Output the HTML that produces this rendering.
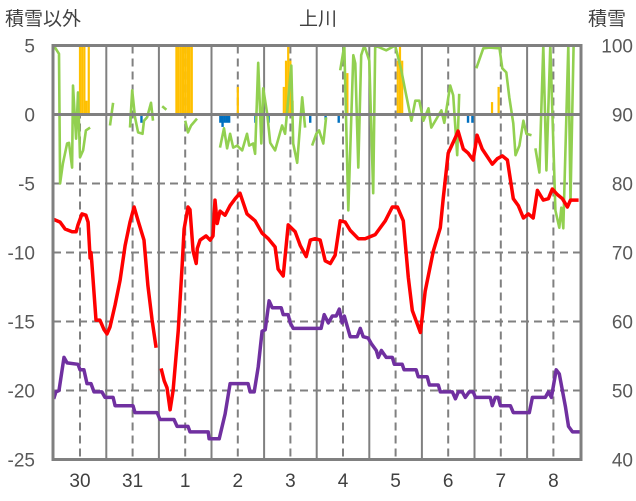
<!DOCTYPE html>
<html><head><meta charset="utf-8">
<style>
html,body{margin:0;padding:0;background:#fff;}
svg{display:block;font-family:"Liberation Sans","Noto Sans CJK JP",sans-serif;}
</style></head>
<body>
<svg id="chart" width="636" height="501" viewBox="0 0 636 501" xmlns="http://www.w3.org/2000/svg">
<text x="5" y="25" font-size="19" fill="#404040">積雪以外</text>
<text x="318" y="25" font-size="19" fill="#404040" text-anchor="middle">上川</text>
<text x="588" y="25" font-size="19" fill="#404040">積雪</text>
<g id="grid"></g>
<g id="bars"></g>
<g id="lines"></g>
<g id="frame"></g>
<g id="labels"></g>
</svg>
<script>
// ---- data ----
const dayLabels = ["30","31","1","2","3","4","5","6","7","8"];
const leftTicks = [5,0,-5,-10,-15,-20,-25];
const rightTicks = [100,90,80,70,60,50,40];

const redHours = [0,2.9,5.2,8.4,10.2,11.1,12.9,14.7,15.7,16.6,17,17.4,19.3,21.1,23,24.3,25.7,28,30.3,32.6,34.8,36.7,38.5,41.2,43,44.9,46.7,null,49,50.4,51.7,53.1,54.5,56.8,58.6,59.5,61.3,62.2,63.6,65,65.5,66.8,69.5,71.4,72.7,73.6,74.6,75.9,78.2,80.5,82.8,85,88.2,91.9,95.1,97.9,101,102.4,104.7,107,110.2,112.5,115.2,117.1,119.3,121.6,123.9,126.2,128.4,130.7,133,135.3,139,142.1,146.7,151.3,154.5,156.8,159.5,161.8,163.6,167.3,169.5,173.2,176.4,177.7,180,183.2,184.5,186.9,189.1,191.4,193.2,195.5,200.1,202.4,204.7,207,209.7,212,214.3,216.6,218.8,220.7,223.4,225.7,227.5,229.8,232.1,234.4,235.8,239.5];
const redValues = [-7.6,-7.8,-8.3,-8.5,-8.5,-8.0,-7.2,-7.3,-7.8,-10.4,-10.0,-10.7,-14.9,-14.9,-15.6,-15.9,-15.4,-13.8,-12,-9.5,-7.8,-6.7,-7.7,-9.1,-12.4,-14.9,-16.9,null,-18.4,-19.3,-19.8,-21.4,-20,-15.7,-11,-8.3,-6.7,-6.9,-9.9,-10.8,-9.7,-9.1,-8.8,-9.1,-8.8,-6.2,-7.9,-7.0,-7.3,-6.6,-6.1,-5.7,-7.2,-7.7,-8.6,-9.0,-9.6,-11.2,-11.7,-8.0,-8.5,-9.5,-10.3,-9.1,-9.0,-9.1,-10.6,-10.8,-10.2,-7.7,-7.8,-8.4,-9.0,-9.0,-8.7,-7.7,-6.7,-6.7,-7.7,-11.8,-14.2,-15.8,-12.8,-9.9,-8.2,-6.1,-2.8,-1.7,-1.2,-2.5,-2.8,-3.3,-1.5,-2.5,-3.6,-3.2,-3.0,-3.3,-6.1,-6.6,-7.5,-7.2,-7.5,-5.5,-6.2,-6.1,-5.4,-5.8,-6.1,-6.7,-6.2,-6.2];

const purpleHours = [0,1,2.4,4.7,6.1,11.1,12,13.8,15.2,17,18.4,22,23.4,27.1,28,36.2,37.1,47.2,48.5,54.9,56.3,61.3,62.2,70.5,70.9,75.5,78.2,80.5,88.7,89.6,91.5,93.3,95.1,96.5,98.3,99.7,103.8,104.7,107,107.9,109.3,122,123.4,125.3,127.1,128.9,130.3,131.6,132.6,135.3,138.5,139.9,141.2,143.5,144.9,147.2,148.1,149.5,151.7,154.5,155.4,159,159.9,165.4,166.3,170.4,171.4,175.5,176.4,181.9,183.3,184.6,186.4,187.8,189.6,191.4,192.4,199.2,200.1,201.5,202.8,203.8,208.4,209.7,217,218.4,224.3,225.7,227.1,229.3,230.7,233.5,234.9,236.7,239.9];
const purpleValues = [-20.6,-20.1,-20.0,-17.6,-18.0,-18.1,-18.5,-18.5,-19.5,-19.5,-20.1,-20.1,-20.5,-20.5,-21.1,-21.1,-21.6,-21.6,-22.1,-22.1,-22.6,-22.6,-23.0,-23.0,-23.5,-23.5,-21.7,-19.5,-19.5,-20.1,-20.1,-18.3,-15.7,-15.6,-13.5,-14.0,-14.0,-14.5,-14.5,-15.1,-15.5,-15.5,-14.5,-15.1,-14.6,-14.6,-14.1,-15.1,-14.6,-16.1,-16.1,-15.5,-16.1,-16.2,-16.6,-17.1,-17.6,-17.1,-17.6,-17.6,-18.1,-18.1,-18.5,-18.5,-19.0,-19.0,-19.6,-19.6,-20.1,-20.1,-20.6,-20.1,-20.1,-20.5,-20.1,-20.1,-20.5,-20.5,-21.1,-20.5,-20.5,-21.1,-21.1,-21.6,-21.6,-20.5,-20.5,-20.1,-20.5,-18.5,-18.8,-21.2,-22.6,-23.0,-23.0];

const greenHours = [0,2.4,2.9,4.2,6.1,7,8.4,8.8,10.2,11.1,12,13.4,14.7,16.6,null,25.7,27.1,null,34.8,35.8,37.1,38.5,40.5,41.2,42.6,44.4,45.3,null,49.5,51.4,null,60,61.3,62.7,65.4,null,75.9,77.7,79.1,80.5,81.9,83.7,86,88.2,89.2,91,91.9,93.3,94.7,95.6,97.4,98.8,101,104.2,105.6,108.4,109.3,111.1,113.4,114.7,null,117.9,119.8,121.1,123,124.3,null,130.7,132.6,134.4,136.7,137.6,139,140.3,141.7,144,145.8,146.7,151.7,155.8,158.6,160.4,163.2,165,166.8,168.7,171,172.3,176.9,178.2,180.9,182.3,184.1,185,null,192.8,196,198.8,203.4,204.7,206.5,207.9,209.7,210.7,212.5,214.3,215.7,218,null,219.8,221.6,223.4,224.8,226.6,228.9,230.7,231.6,232.5,234.8,235.8,237.2];
const greenValues = [100,98.8,80,82.9,85.8,85.9,82.3,94.2,86.5,93.2,83.8,84.8,87.7,88.1,null,88.4,91.7,null,88.1,93.5,89.6,87.4,87.2,89.1,89.6,91.7,89.1,null,91.2,90.7,null,89.1,87.4,88.4,89.4,null,85.2,88,85.1,87.2,85.2,85.5,84.8,87.2,85.5,85.8,84.3,97.5,85.8,93.8,90.1,85.9,84.8,88.4,87.2,97.1,85.8,83,92.5,88.1,null,85.5,87.2,87.7,85.8,89.6,null,96.4,100,76.1,98.6,97.4,82.3,98.6,100,97.8,78.6,100,99.3,100,96.4,93.5,89.1,92,92,89.1,90.9,88.1,90.6,88.8,94.2,92.8,84.1,93,null,96.7,99.6,99.7,99.6,96.7,96.1,92.5,88.7,84.1,85.5,89.1,87.2,87,null,85.1,81.6,100,81.9,100,76.1,73.6,76.5,73.5,100,77.5,100];

const snowHours = [12,13,14,15,16,56,57,58,59,60,61,62,63,84,105,106,107,108,109,134,157,158,159,200,203];
const snowValues = [5,5,5,1,5,5,5,5,5,5,5,5,5,2,2,3.9,5,3.9,1,3,3.9,5,3.9,0.9,2];
const dropHours = [35,40,76,77,78,79,80,92,98,117,124,130,189,191];
const dropValues = [-0.6,-0.6,-0.6,-0.9,-0.6,-0.6,-0.6,-0.6,-0.6,-0.6,-0.4,-0.6,-0.6,-0.6];

// ---- axes ----
const X0 = 53.7, X1 = 581, PX_PER_H = 52.6/24;
const YT = 45.5, YB = 459.5;
const xs = h => X0 + h*PX_PER_H;
const yL = v => YT + (5 - v) * (YB-YT)/30;
const yR = v => YT + (100 - v) * (YB-YT)/60;
const NS = "http://www.w3.org/2000/svg";
function mk(tag, attrs, parent){const e=document.createElementNS(NS,tag);for(const k in attrs)e.setAttribute(k,attrs[k]);parent.appendChild(e);return e;}

const grid = document.getElementById('grid');
[-5,-10,-15,-20].forEach(v=>{
  const l = mk('line',{x1:53,x2:581,y1:yL(v),y2:yL(v),stroke:'#808080','stroke-width':2,'stroke-dasharray':'8,5'},grid);
  
  
});
for(let d=0; d<10; d++){
  const xm = xs(d*24+12);
  const l = mk('line',{x1:xm,x2:xm,y1:YT,y2:YB,stroke:'#808080','stroke-width':2,'stroke-dasharray':'8,5'},grid);
  
  
  if(d>0){
    const xb = xs(d*24);
    const b = mk('line',{x1:xb,x2:xb,y1:YT,y2:YB,stroke:'#808080','stroke-width':2},grid);
    
    
  }
}

const bars = document.getElementById('bars');
snowHours.forEach((h,i)=>{
  const v = Math.min(snowValues[i],5);
  const r = mk('rect',{x:xs(h)-1.1,width:2.2,y:yL(v),height:yL(0)-yL(v),fill:'#ffc000'},bars);
  
  
});
dropHours.forEach((h,i)=>{
  const r = mk('rect',{x:xs(h)-1.1,width:2.4,y:yL(0),height:yL(dropValues[i])-yL(0),fill:'#0070c0'},bars);
  
  
});

function pathFrom(hours, vals, yf){
  let d='', pen=false;
  for(let i=0;i<hours.length;i++){
    if(hours[i]===null||vals[i]===null){pen=false;continue;}
    d += (pen?'L':'M') + xs(hours[i]).toFixed(1)+','+yf(vals[i]).toFixed(1);
    pen=true;
  }
  return d;
}
const lines = document.getElementById('lines');
const g = mk('path',{d:pathFrom(greenHours,greenValues,yR),fill:'none',stroke:'#92d050','stroke-width':2.6,'stroke-linejoin':'round'},lines);


const r = mk('path',{d:pathFrom(redHours,redValues,yL),fill:'none',stroke:'#ff0000','stroke-width':3.5,'stroke-linejoin':'round'},lines);


const p = mk('path',{d:pathFrom(purpleHours,purpleValues,yL),fill:'none',stroke:'#7030a0','stroke-width':3.5,'stroke-linejoin':'round'},lines);



const frame = document.getElementById('frame');
const z = mk('line',{x1:53,x2:581,y1:yL(0),y2:yL(0),stroke:'#808080','stroke-width':3},frame);


const fr = mk('rect',{x:53,y:YT,width:528,height:YB-YT,fill:'none',stroke:'#808080','stroke-width':3},frame);



const labels = document.getElementById('labels');
leftTicks.forEach(v=>{
  const t = mk('text',{x:35,y:yL(v)+7,'font-size':19,fill:'#595959','text-anchor':'end'},labels);
  t.textContent = v;
  
  
});
rightTicks.forEach(v=>{
  const t = mk('text',{x:633,y:yR(v)+7,'font-size':19,fill:'#595959','text-anchor':'end'},labels);
  t.textContent = v;
  
  
});
dayLabels.forEach((s,i)=>{
  const t = mk('text',{x:xs(i*24+12),y:487,'font-size':19,fill:'#404040','text-anchor':'middle'},labels);
  t.textContent = s;
  
  
});
</script>
</body></html>
